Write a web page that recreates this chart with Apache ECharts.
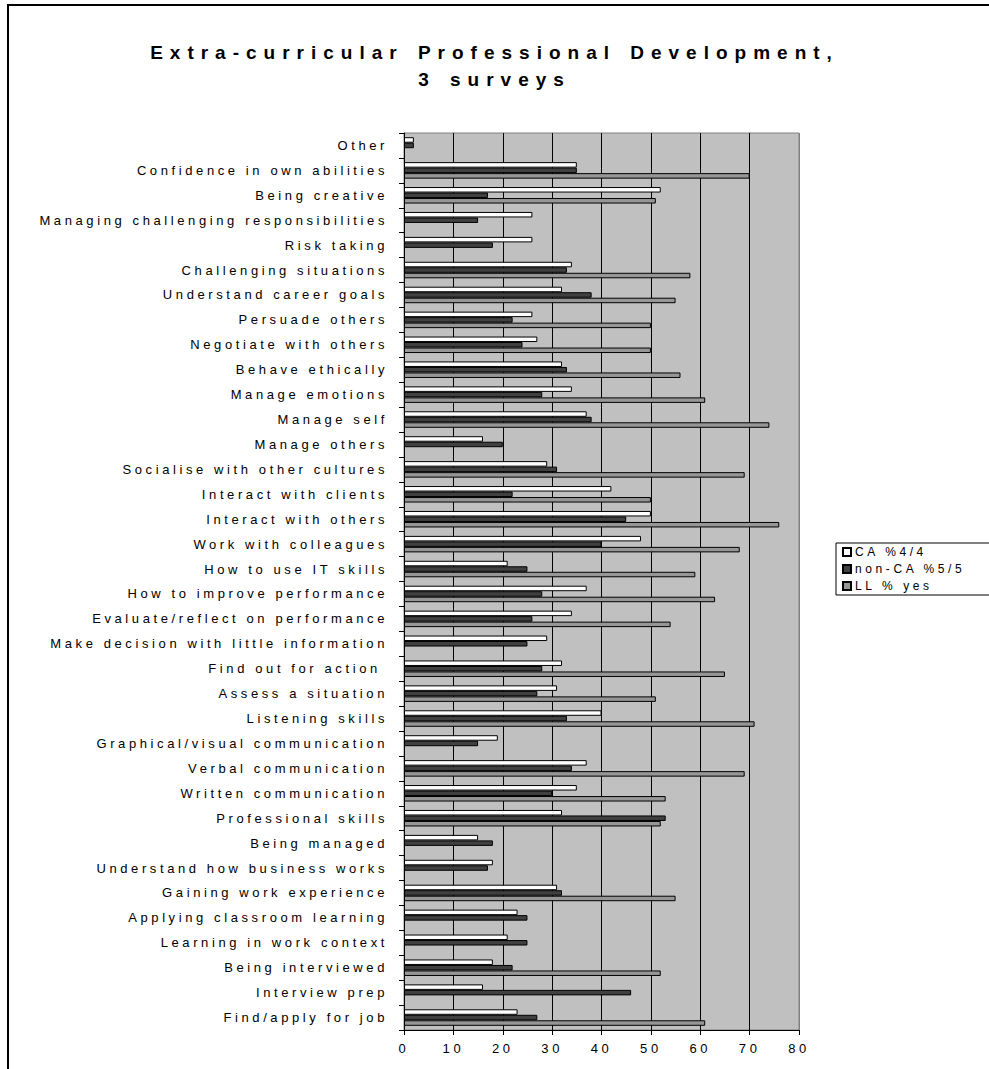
<!DOCTYPE html>
<html>
<head>
<meta charset="utf-8">
<title>Extra-curricular Professional Development, 3 surveys</title>
<script src="https://cdn.jsdelivr.net/npm/echarts@6/dist/echarts.min.js"></script>
<style>
  html, body { margin: 0; padding: 0; background: #fff; }
  #chart { width: 989px; height: 1069px; }
  /* wide letter spacing of the chart's lettering */
  #chart svg text { letter-spacing: 3.6px; }
  #chart svg text[style*="bold"] { letter-spacing: 7px; word-spacing: 2px; }
</style>
</head>
<body>
<div id="chart"></div>
<script>
// Categories, listed top to bottom
const categories = [
  'Other',
  'Confidence in own abilities',
  'Being creative',
  'Managing challenging responsibilities',
  'Risk taking',
  'Challenging situations',
  'Understand career goals',
  'Persuade others',
  'Negotiate with others',
  'Behave ethically',
  'Manage emotions',
  'Manage self',
  'Manage others',
  'Socialise with other cultures',
  'Interact with clients',
  'Interact with others',
  'Work with colleagues',
  'How to use IT skills',
  'How to improve performance',
  'Evaluate/reflect on performance',
  'Make decision with little information',
  'Find out for action ',
  'Assess a situation',
  'Listening skills',
  'Graphical/visual communication',
  'Verbal communication',
  'Written communication',
  'Professional skills',
  'Being managed',
  'Understand how business works',
  'Gaining work experience',
  'Applying classroom learning',
  'Learning in work context',
  'Being interviewed',
  'Interview prep',
  'Find/apply for job'
];

const seriesNames = ['CA %4/4', 'non-CA %5/5', 'LL % yes'];

const caValues = [2, 35, 52, 26, 26, 34, 32, 26, 27, 32, 34, 37, 16, 29, 42, 50, 48, 21, 37, 34, 29, 32, 31, 40, 19, 37, 35, 32, 15, 18, 31, 23, 21, 18, 16, 23];
const nonCaValues = [2, 35, 17, 15, 18, 33, 38, 22, 24, 33, 28, 38, 20, 31, 22, 45, 40, 25, 28, 26, 25, 28, 27, 33, 15, 34, 30, 53, 18, 17, 32, 25, 25, 22, 46, 27];
const llValues = [null, 70, 51, null, null, 58, 55, 50, 50, 56, 61, 74, null, 69, 50, 76, 68, 59, 63, 54, null, 65, 51, 71, null, 69, 53, 52, null, null, 55, null, null, 52, null, 61];

const xTicks = { min: 0, max: 80, interval: 10 };

const FONT = 'Arial, "Liberation Sans", sans-serif';
const barColors = ['#ffffff', '#404040', '#969696'];
const values = [caValues, nonCaValues, llValues];

const chart = echarts.init(document.getElementById('chart'), null, { renderer: 'svg' });

chart.setOption({
  animation: false,
  backgroundColor: '#ffffff',
  title: {
    text: 'Extra-curricular Professional Development,\n3 surveys',
    left: 'center',
    top: 34,
    textStyle: {
      fontFamily: FONT,
      fontSize: 19,
      fontWeight: 'bold',
      color: '#000',
      lineHeight: 27
    }
  },
  graphic: [{
    type: 'rect',
    shape: { x: 8, y: 5, width: 1200, height: 1200 },
    style: { fill: 'none', stroke: '#000', lineWidth: 2 },
    silent: true,
    z: 100
  }],
  legend: {
    orient: 'vertical',
    left: 836,
    top: 543,
    data: seriesNames,
    itemWidth: 8,
    itemHeight: 8,
    itemGap: 5,
    padding: [3, 80, 3, 6],
    borderColor: '#000',
    borderWidth: 1,
    icon: 'rect',
    textStyle: { fontFamily: FONT, fontSize: 12, color: '#000', padding: [0, 0, 0, -1] }
  },
  grid: {
    left: 404,
    right: 190,
    top: 133,
    bottom: 39,
    show: true,
    backgroundColor: '#c0c0c0',
    borderColor: '#808080',
    borderWidth: 1
  },
  xAxis: {
    type: 'value',
    min: xTicks.min,
    max: xTicks.max,
    interval: xTicks.interval,
    axisLine: { show: true, lineStyle: { color: '#000', width: 1 } },
    axisTick: { show: true, length: 5, lineStyle: { color: '#000' } },
    axisLabel: { fontFamily: FONT, fontSize: 13, color: '#000', margin: 12 },
    splitLine: {
      show: true,
      lineStyle: {
        color: ['#000', '#000', '#000', '#000', '#000', '#000', '#000', '#000', '#808080'],
        width: 1
      }
    }
  },
  yAxis: {
    type: 'category',
    inverse: true,
    data: categories,
    axisLine: { show: true, lineStyle: { color: '#000', width: 1 } },
    axisTick: { show: true, length: 5, lineStyle: { color: '#000' } },
    axisLabel: { fontFamily: FONT, fontSize: 13, color: '#000', margin: 16, interval: 0 },
    splitLine: { show: false }
  },
  series: seriesNames.map((name, i) => ({
    name: name,
    type: 'bar',
    data: values[i],
    barWidth: 5.5,
    barGap: '0%',
    itemStyle: { color: barColors[i], borderColor: '#000', borderWidth: 1 }
  }))
});
</script>
</body>
</html>
